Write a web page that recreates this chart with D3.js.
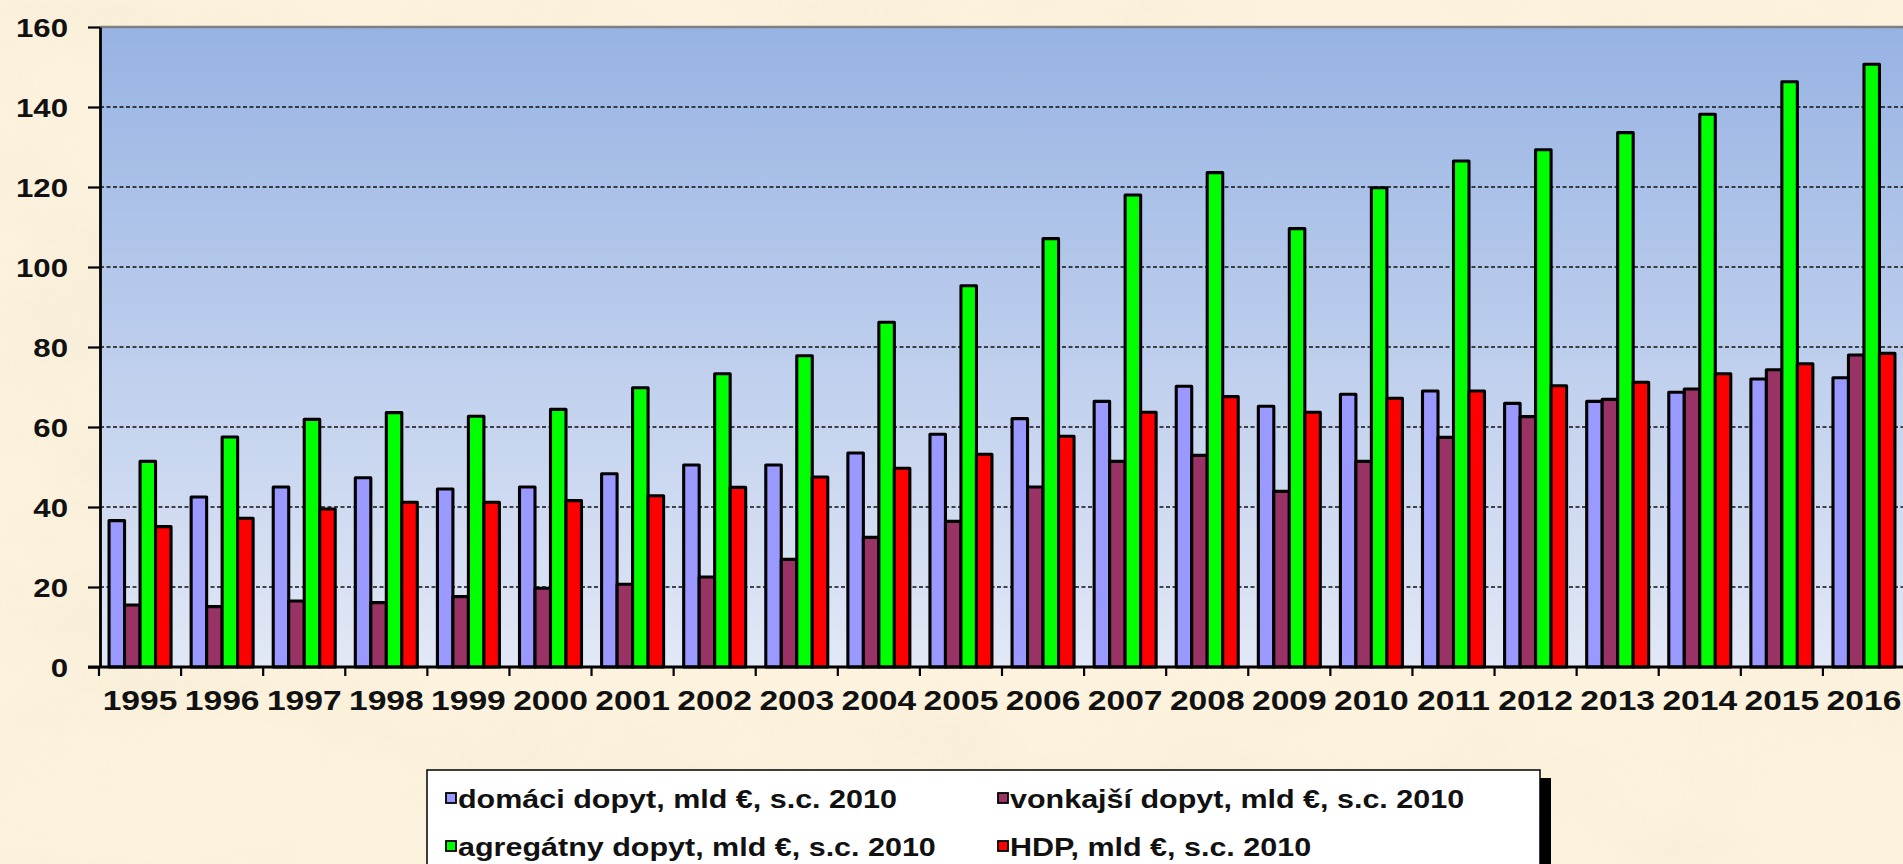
<!DOCTYPE html>
<html>
<head>
<meta charset="utf-8">
<script src="https://cdn.jsdelivr.net/npm/d3@7"></script>
<style>
  html, body { margin: 0; padding: 0; background: #f9ecd2; overflow: hidden; }
  svg { display: block; }
</style>
</head>
<body>
<svg id="chart" width="1903" height="864"></svg>
<script>
// ---- data ----
const years = ["1995","1996","1997","1998","1999","2000","2001","2002","2003","2004","2005","2006","2007","2008","2009","2010","2011","2012","2013","2014","2015","2016"];
const domaci    = [36.6, 42.5, 45.0, 47.3, 44.5, 45.0, 48.3, 50.5, 50.5, 53.5, 58.2, 62.1, 66.4, 70.2, 65.2, 68.2, 69.0, 65.9, 66.4, 68.7, 72.0, 72.3];
const vonkajsi  = [15.5, 15.1, 16.5, 16.1, 17.6, 19.7, 20.7, 22.5, 26.9, 32.4, 36.4, 45.0, 51.4, 52.9, 43.9, 51.4, 57.4, 62.6, 66.9, 69.5, 74.3, 78.0];
const agregatny = [51.4, 57.5, 61.9, 63.6, 62.7, 64.4, 69.8, 73.3, 77.8, 86.2, 95.3, 107.1, 118.0, 123.6, 109.6, 119.8, 126.5, 129.3, 133.6, 138.2, 146.3, 150.7];
const hdp       = [35.1, 37.2, 39.5, 41.2, 41.2, 41.6, 42.8, 44.9, 47.5, 49.7, 53.2, 57.7, 63.7, 67.6, 63.7, 67.2, 69.0, 70.3, 71.2, 73.3, 75.8, 78.4];
const seriesNames = ["domáci dopyt, mld €, s.c. 2010", "vonkajší dopyt, mld €, s.c. 2010", "agregátny dopyt, mld €, s.c. 2010", "HDP, mld €, s.c. 2010"];
const seriesColors = ["#9999ff", "#993366", "#00ff00", "#ff0000"];
const yTicks = [0, 20, 40, 60, 80, 100, 120, 140, 160];

const seriesValues = [domaci, vonkajsi, agregatny, hdp];
const table = years.map((yr, i) => ({ year: yr, values: seriesValues.map((arr, s) => ({ s, v: arr[i] })) }));

// ---- layout ----
const W = 1903, H = 864;
const plot = { left: 100, right: 1905, top: 27, bottom: 667 };
const FONT = "'Liberation Sans', Arial, Helvetica, sans-serif";
const STRETCH = 1.2;

const svg = d3.select("#chart");
const defs = svg.append("defs");

// parchment background
const f = defs.append("filter").attr("id", "paper").attr("x", 0).attr("y", 0).attr("width", "100%").attr("height", "100%");
f.append("feTurbulence").attr("type", "fractalNoise").attr("baseFrequency", "0.004 0.007").attr("numOctaves", 4).attr("seed", 7).attr("result", "n");
f.append("feColorMatrix").attr("in", "n").attr("type", "matrix")
  .attr("values", "0 0 0 0 0.93  0 0 0 0 0.85  0 0 0 0 0.68  3.2 0 0 0 -1.35");
svg.append("rect").attr("width", W).attr("height", H).attr("fill", "#fcf2dd");
svg.append("rect").attr("width", W).attr("height", H).attr("filter", "url(#paper)").attr("opacity", 0.6);

// plot gradient
const g = defs.append("linearGradient").attr("id", "plotbg").attr("x1", 0).attr("y1", 0).attr("x2", 0).attr("y2", 1);
g.append("stop").attr("offset", "0%").attr("stop-color", "#97b3e3");
g.append("stop").attr("offset", "100%").attr("stop-color", "#e2e8f6");

// scales
const x0 = d3.scaleBand().domain(years).range([plot.left - 1, plot.right]).padding(0);
const bw = x0.bandwidth();
const gap = bw * 0.245;
const x1 = d3.scaleBand().domain(d3.range(seriesNames.length)).range([gap / 2, bw - gap / 2]).padding(0);
const y = d3.scaleLinear().domain([0, 160]).range([plot.bottom, plot.top]);

svg.append("rect").attr("x", plot.left).attr("y", plot.top)
  .attr("width", plot.right - plot.left).attr("height", plot.bottom - plot.top)
  .attr("fill", "url(#plotbg)");

// gridlines
svg.append("g").selectAll("line").data(yTicks.filter(t => t > 0 && t < 160)).join("line")
  .attr("x1", plot.left).attr("x2", plot.right)
  .attr("y1", d => y(d)).attr("y2", d => y(d))
  .attr("stroke", "#111").attr("stroke-width", 1.6).attr("stroke-dasharray", "4,2.5");
// top border
svg.append("line").attr("x1", plot.left).attr("x2", plot.right).attr("y1", y(160)).attr("y2", y(160))
  .attr("stroke", "#808080").attr("stroke-width", 2.5);

// bars
const groups = svg.append("g").selectAll("g").data(table).join("g")
  .attr("transform", d => `translate(${x0(d.year)},0)`);
groups.selectAll("rect").data(d => d.values).join("rect")
  .attr("x", d => x1(d.s))
  .attr("width", x1.bandwidth())
  .attr("y", d => y(d.v))
  .attr("height", d => y(0) - y(d.v))
  .attr("fill", d => seriesColors[d.s])
  .attr("stroke", "#000").attr("stroke-width", 3.1).attr("stroke-linejoin", "round");

// y axis
const yAxis = svg.append("g").attr("transform", `translate(${plot.left},0)`)
  .call(d3.axisLeft(y).tickValues(yTicks).tickSize(12).tickSizeOuter(0).tickPadding(20));
yAxis.select(".domain").attr("stroke", "#000").attr("stroke-width", 2.8);
yAxis.selectAll(".tick line").attr("stroke", "#000").attr("stroke-width", 2.2);
yAxis.selectAll(".tick text")
  .attr("font-family", FONT).attr("font-weight", "bold").attr("font-size", 26).attr("fill", "#111")
  .attr("x", -32 / 1.2).attr("dy", "0.35em").attr("transform", "scale(1.2,1)");

// x axis
const xAxis = svg.append("g").attr("transform", `translate(0,${plot.bottom})`)
  .call(d3.axisBottom(x0).tickSize(0).tickSizeOuter(0).tickPadding(23));
xAxis.select(".domain").remove();
xAxis.selectAll(".tick text")
  .attr("font-family", FONT).attr("font-weight", "bold").attr("font-size", 28).attr("fill", "#111")
  .attr("dy", "0.71em").attr("transform", `scale(${STRETCH},1)`);
xAxis.append("line").attr("x1", plot.left - 12).attr("x2", plot.right).attr("y1", 0).attr("y2", 0)
  .attr("stroke", "#000").attr("stroke-width", 2.8);
xAxis.append("g").selectAll("line").data(years).join("line")
  .attr("x1", d => x0(d)).attr("x2", d => x0(d)).attr("y1", 0).attr("y2", 9)
  .attr("stroke", "#000").attr("stroke-width", 2.2);

// legend
const L = { x: 427, y: 770, w: 1113, h: 130 };
svg.append("rect").attr("x", L.x + 11).attr("y", L.y + 8).attr("width", L.w).attr("height", L.h).attr("fill", "#000");
svg.append("rect").attr("x", L.x).attr("y", L.y).attr("width", L.w).attr("height", L.h)
  .attr("fill", "#fff").attr("stroke", "#000").attr("stroke-width", 1.5);
const legPos = [
  { mx: 446, my: 793, tx: 458, ty: 808 },
  { mx: 998, my: 793, tx: 1010, ty: 808 },
  { mx: 446, my: 841, tx: 458, ty: 856 },
  { mx: 998, my: 841, tx: 1010, ty: 856 }
];
const leg = svg.append("g").selectAll("g").data(seriesNames).join("g");
leg.append("rect")
  .attr("x", (d, i) => legPos[i].mx).attr("y", (d, i) => legPos[i].my)
  .attr("width", 10).attr("height", 10)
  .attr("fill", (d, i) => seriesColors[i]).attr("stroke", "#000").attr("stroke-width", 1.8);
leg.append("text")
  .attr("transform", (d, i) => `translate(${legPos[i].tx},${legPos[i].ty}) scale(1.22,1)`)
  .attr("font-family", FONT).attr("font-weight", "bold").attr("font-size", 25).attr("fill", "#111")
  .text(d => d);
</script>
</body>
</html>
